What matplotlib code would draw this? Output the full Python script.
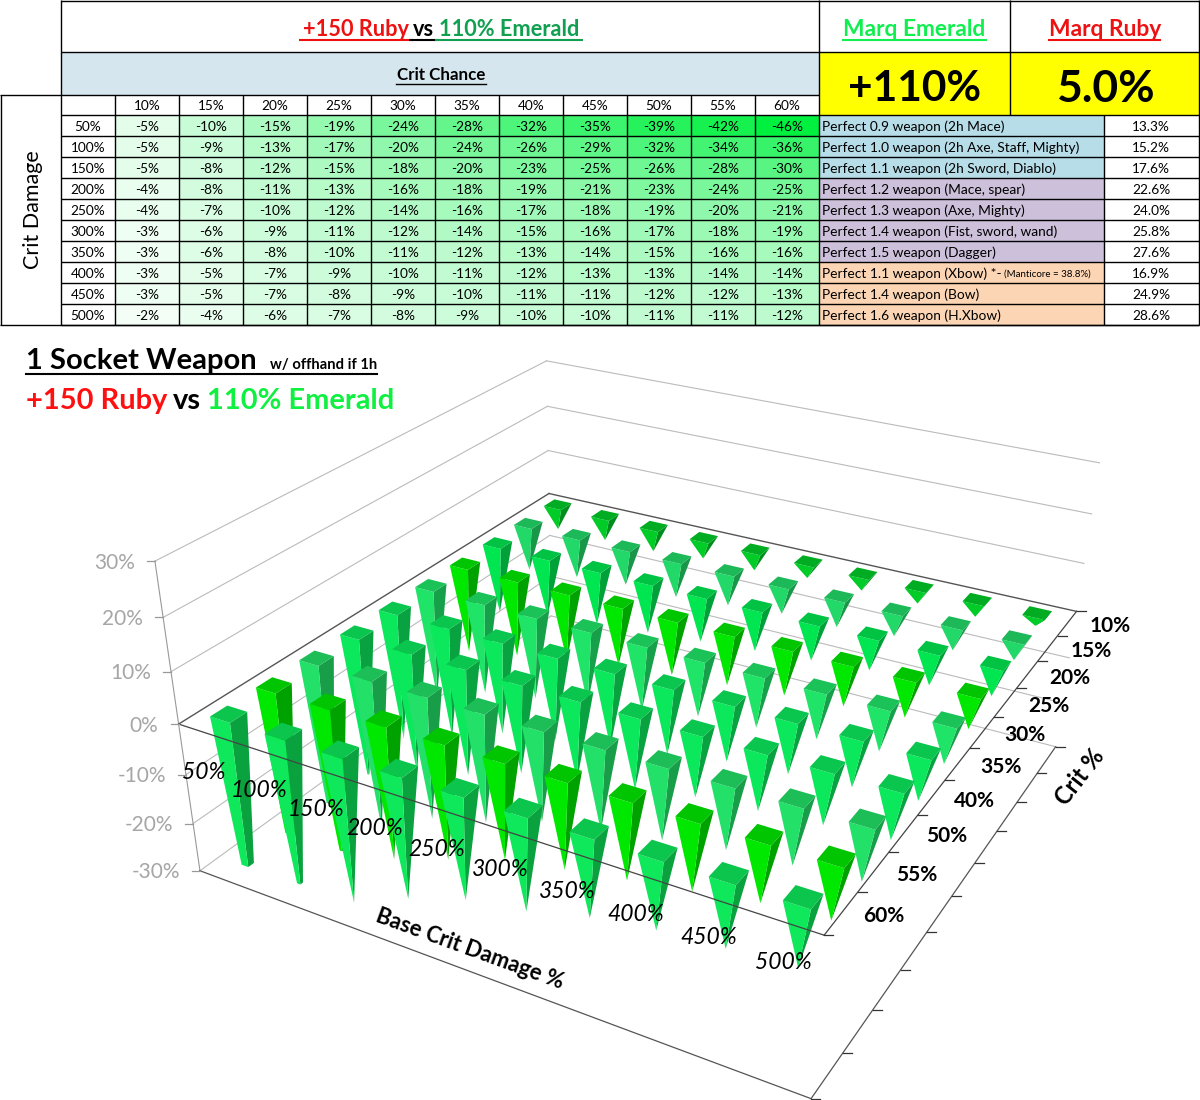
import numpy as np
import matplotlib
matplotlib.use('Agg')
import matplotlib.pyplot as plt
from matplotlib.colors import LinearSegmentedColormap, to_rgb
from matplotlib.patches import Rectangle
from mpl_toolkits.mplot3d.art3d import Poly3DCollection

FONT = 'Lato'

crit_labels = ['10%', '15%', '20%', '25%', '30%', '35%', '40%', '45%', '50%', '55%', '60%']
damage_labels = ['50%', '100%', '150%', '200%', '250%', '300%', '350%', '400%', '450%', '500%']
table_values = np.array([
    [-5, -10, -15, -19, -24, -28, -32, -35, -39, -42, -46],
    [-5, -9, -13, -17, -20, -24, -26, -29, -32, -34, -36],
    [-5, -8, -12, -15, -18, -20, -23, -25, -26, -28, -30],
    [-4, -8, -11, -13, -16, -18, -19, -21, -23, -24, -25],
    [-4, -7, -10, -12, -14, -16, -17, -18, -19, -20, -21],
    [-3, -6, -9, -11, -12, -14, -15, -16, -17, -18, -19],
    [-3, -6, -8, -10, -11, -12, -13, -14, -15, -16, -16],
    [-3, -5, -7, -9, -10, -11, -12, -13, -13, -14, -14],
    [-3, -5, -7, -8, -9, -10, -11, -11, -12, -12, -13],
    [-2, -4, -6, -7, -8, -9, -10, -10, -11, -11, -12],
])
weapon_labels = ['Perfect 0.9 weapon (2h Mace)', 'Perfect 1.0 weapon (2h Axe, Staff, Mighty)',
                 'Perfect 1.1 weapon (2h Sword, Diablo)', 'Perfect 1.2 weapon (Mace, spear)',
                 'Perfect 1.3 weapon (Axe, Mighty)', 'Perfect 1.4 weapon (Fist, sword, wand)',
                 'Perfect 1.5 weapon (Dagger)', 'Perfect 1.1 weapon (Xbow) *-',
                 'Perfect 1.4 weapon (Bow)', 'Perfect 1.6 weapon (H.Xbow)']
weapon_values = ['13.3%', '15.2%', '17.6%', '22.6%', '24.0%', '25.8%', '27.6%', '16.9%', '24.9%', '28.6%']
weapon_fills = ['#b7dde8'] * 3 + ['#ccc0da'] * 4 + ['#fcd5b4'] * 3

# the 3D chart has no 45% row
chart_crit = ['10%', '15%', '20%', '25%', '30%', '35%', '40%', '50%', '55%', '60%']
chart_values = np.delete(table_values, 7, axis=1)
row_colors = ['#00cc28', '#22d868', '#00e650', '#00e800', '#20e468',
              '#0ce85c', '#0ce85c', '#22e068', '#00e800', '#0ee85a']
z_ticks = [30, 20, 10, 0, -10, -20, -30]

# table grid, in pixels
col_edges = np.array([115, 179, 243, 307, 371, 435, 499, 563, 627, 691, 755, 819])
row_edges = np.array([115, 136, 157, 178, 199, 220, 241, 262, 283, 304, 325])

anchors = [
    (0, 10, 30, 155, 561), (0, 10, 20, 163, 617), (0, 10, 10, 171, 672), (0, 10, 0, 179, 723),
    (0, 10, -10, 186, 775), (0, 10, -20, 193, 824), (0, 10, -30, 200, 871),
    (0, 0, 30, 546, 361), (0, 0, 20, 548, 406), (0, 0, 10, 548, 450.5), (0, 0, 0, 548.5, 493.5),
    (0, 0, -10, 550, 535.7),
    (10, 0, 30, 1100, 465), (10, 0, 20, 1092, 513), (10, 0, 10, 1085, 563), (10, 0, 0, 1075, 611),
    (10, 0, -10, 1070, 657), (10, 0, -30, 1055, 747),
    (10, 10, 0, 822, 935), (10, 10, -30, 812.7, 1099),
]


def fit_camera(points):
    rows, rhs = [], []
    for x, y, z, u, v in points:
        rows.append([x, y, z, 1, 0, 0, 0, 0, -u * x, -u * y, -u * z])
        rows.append([0, 0, 0, 0, x, y, z, 1, -v * x, -v * y, -v * z])
        rhs += [u, v]
    sol = np.linalg.lstsq(np.array(rows, float), np.array(rhs, float), rcond=None)[0]
    return np.append(sol, 1.0).reshape(3, 4)


cam = fit_camera(anchors)


def project(x, y, z):
    p = cam @ np.array([x, y, z, 1.0])
    return p[0] / p[2], p[1] / p[2]


fig = plt.figure(figsize=(12, 11), dpi=100)

# 3D chart, its projection replaced by the fitted camera
ax3 = fig.add_axes([0, 0, 1, 1], projection='3d', zorder=1)
ax3.set_axis_off()
ax3.patch.set_visible(False)
ax3.computed_zorder = False
ax3.set_proj_type('ortho')  # no clipping of lines to the unit box
ax3.set_xlim(0, 10)
ax3.set_ylim(0, 10)
ax3.set_zlim(-30, 30)
M = np.vstack([cam[0], cam[1], cam[2] - [0, 0, 0, 1], cam[2]])
ax3.get_proj = lambda: M
ax3.apply_aspect = lambda position=None: None
ax3.viewLim.intervalx = (0, 1200)
ax3.viewLim.intervaly = (1100, 0)

for z in z_ticks:
    c = '#555555' if z == 0 else '#bbbbbb'
    w = 1 if z == 0 else 0.8
    ax3.plot([0, 0], [10, 0], [z, z], color=c, lw=w, zorder=2)
    ax3.plot([0, 10], [0, 0], [z, z], color=c, lw=w, zorder=2)
ax3.plot([0, 0], [10, 10], [30, -30], color='#999999', lw=0.8, zorder=2)

half = 0.185
lift = 0.7  # the tops sit a little above the floor plane
order = sorted(((i, j) for i in range(10) for j in range(10)), key=lambda t: t[0] + t[1])
for n, (i, j) in enumerate(order):
    val = chart_values[i, j]
    end = max(val, -30)
    shrink = 1 - end / val
    cx, cy = i + 0.5, j + 0.5
    h0, h1 = half, half * shrink
    top = [(cx - h0, cy - h0, lift), (cx + h0, cy - h0, lift), (cx + h0, cy + h0, lift), (cx - h0, cy + h0, lift)]
    left = [(cx - h0, cy + h0, lift), (cx + h0, cy + h0, lift), (cx + h1, cy + h1, end), (cx - h1, cy + h1, end)]
    right = [(cx + h0, cy - h0, lift), (cx + h0, cy + h0, lift), (cx + h1, cy + h1, end), (cx + h1, cy - h1, end)]
    base = np.array(to_rgb(row_colors[j]))
    poly = Poly3DCollection([right, left, top], facecolors=[base * 0.7, base, base * 0.85],
                            edgecolors='none', zsort='min', zorder=3 + n * 0.01)
    ax3.add_collection3d(poly)

ax3.plot([0, 10], [10, 10], [0, 0], color='#444444', lw=0.9, zorder=5)
ax3.plot([10, 10], [0, 10], [0, 0], color='#444444', lw=0.9, zorder=5)
ax3.plot([0, 10], [10, 10], [-30, -30], color='#555555', lw=0.9, zorder=5)
ax3.plot([10, 10], [0, 10], [-30, -30], color='#555555', lw=0.9, zorder=5)

# flat layer for the table and every label, in pixels
ax = fig.add_axes([0, 0, 1, 1], zorder=5)
ax.patch.set_visible(False)
ax.set_axis_off()


def rich_text(x, y, parts, size, underline=None, lw=1.5):
    renderer = fig.canvas.get_renderer()
    for s, color, weight, fs in parts:
        t = ax.text(x, y, s, color=color, fontsize=fs or size, fontweight=weight, family=FONT,
                    ha='left', va='baseline')
        x1 = t.get_window_extent(renderer).x1
        if underline is not None:
            ax.plot([x - 4, x1 + 4], [y + underline] * 2, color=color, lw=lw, solid_capstyle='butt')
        x = x1 + 0.28 * (fs or size)
    return x


ax.set_xlim(0, 1200)
ax.set_ylim(1100, 0)

# table fills
ax.add_patch(Rectangle((61, 52), 758, 42.5, fc='#d6e6ee', ec='none'))
ax.add_patch(Rectangle((819, 52), 380, 63, fc='#ffff00', ec='none'))
cmap = LinearSegmentedColormap.from_list('heat', ['#ffffff', '#00f040'][::-1])
ax.pcolormesh(col_edges, row_edges, table_values, cmap=cmap, vmin=-46, vmax=0, zorder=1)
for k, fill in enumerate(weapon_fills):
    ax.add_patch(Rectangle((819, row_edges[k]), 285, row_edges[k + 1] - row_edges[k], fc=fill, ec='none', zorder=1))

# table borders
line = dict(color='black', lw=1, zorder=2)
ax.hlines([0.5, 52], 61, 1199, **line)
ax.hlines(94.5, 0, 819, **line)
ax.hlines(row_edges, 61, 1199, **line)
ax.hlines(325, 0, 1199, **line)
ax.vlines(0.5, 94.5, 325, **line)
ax.vlines([61, 819], 0, 325, **line)
ax.vlines(1009.5, 0, 115, **line)
ax.vlines(1199, 0, 325, **line)
ax.vlines(col_edges[:-1], 94.5, 325, **line)
ax.vlines(1104, 115, 325, **line)

small = dict(family=FONT, fontsize=9.8, ha='center', va='center', zorder=3)
for k, lab in enumerate(crit_labels):
    ax.text((col_edges[k] + col_edges[k + 1]) / 2, 105.7, lab, **small)
for r, lab in enumerate(damage_labels):
    ym = (row_edges[r] + row_edges[r + 1]) / 2 + 1.2
    ax.text(88, ym, lab, **small)
    for k in range(len(crit_labels)):
        ax.text((col_edges[k] + col_edges[k + 1]) / 2, ym, '%d%%' % table_values[r, k], **small)
    ax.text(822, ym, weapon_labels[r], family=FONT, fontsize=9.9, ha='left', va='center', zorder=3)
    ax.text(1151, ym, weapon_values[r], **small)
ax.text(1004, (row_edges[7] + row_edges[8]) / 2 + 2, '(Manticore = 38.8%)', family=FONT, fontsize=7.0,
        ha='left', va='center', zorder=3)

ax.text(33, 210, 'Crit Damage', family=FONT, fontsize=15.5, rotation=90, ha='center', va='center')
ax.text(441, 74.5, 'Crit Chance', family=FONT, fontsize=12.2, fontweight='bold', ha='center', va='center')
ax.plot([396, 486], [83.5, 83.5], color='black', lw=1)

rich_text(303, 36, [('+150 Ruby', '#ee1111', 'bold', None), ('vs', 'black', 'bold', None),
                    ('110% Emerald', '#10a050', 'bold', None)], 15.7, underline=3.5)
ax.text(914.5, 36, 'Marq Emerald', family=FONT, fontsize=16.4, fontweight='bold', color='#10ee50', ha='center', va='baseline')
ax.plot([843, 986], [39.5, 39.5], color='#10ee50', lw=1.5)
ax.text(1105, 36, 'Marq Ruby', family=FONT, fontsize=16.4, fontweight='bold', color='#ee1111', ha='center', va='baseline')
ax.plot([1049, 1160], [39.5, 39.5], color='#ee1111', lw=1.5)
ax.text(914.5, 89, '+110%', family=FONT, fontsize=30.5, fontweight='bold', ha='center', va='center')
ax.text(1105, 89, '5.0%', family=FONT, fontsize=32, fontweight='bold', ha='center', va='center')

# chart headings
ax.text(26, 369, '1 Socket Weapon', family=FONT, fontsize=21, fontweight='bold', ha='left', va='baseline')
ax.text(270, 369, 'w/ offhand if 1h', family=FONT, fontsize=10.6, fontweight='bold', ha='left', va='baseline')
ax.plot([26, 377], [373.5, 373.5], color='black', lw=1.5)
rich_text(26, 409, [('+150 Ruby', '#ff1010', 'bold', None), ('vs', 'black', 'bold', None),
                    ('110% Emerald', '#10f040', 'bold', None)], 20.9)

# chart ticks and labels
for z in z_ticks:
    u, v = project(0, 10, z)
    ax.plot([u - 8, u], [v, v], color='#999999', lw=0.9)
    ax.text(u - 20, v + 1.5, '%d%%' % z, family=FONT, fontsize=15, color='#a6a6a6', ha='right', va='center')
for k in range(11):
    u, v = project(10, k, 0)
    ax.plot([u, u + 9], [v, v], color='#333333', lw=0.9)
    u, v = project(10, k, -30)
    ax.plot([u, u + 9], [v, v], color='#333333', lw=0.9)
for k, lab in enumerate(damage_labels):
    u, v = project(k + 0.5, 10, 0)
    ax.text(u - 2, v + 40, lab, family=FONT, fontsize=16.5, style='italic', ha='center', va='center')
for k, lab in enumerate(chart_crit):
    u, v = project(10, k + 0.5, 0)
    ax.text(u + 43, v + 3, lab, family=FONT, fontsize=15, ha='center', va='center', fontweight='bold')
ax.text(470, 949, 'Base Crit Damage %', family=FONT, fontsize=15.8, fontweight='bold', rotation=-20,
        ha='center', va='center')
ax.text(1080, 777, 'Crit %', family=FONT, fontsize=17, fontweight='bold', rotation=52, ha='center', va='center')

fig.savefig('out.png', dpi=100)
